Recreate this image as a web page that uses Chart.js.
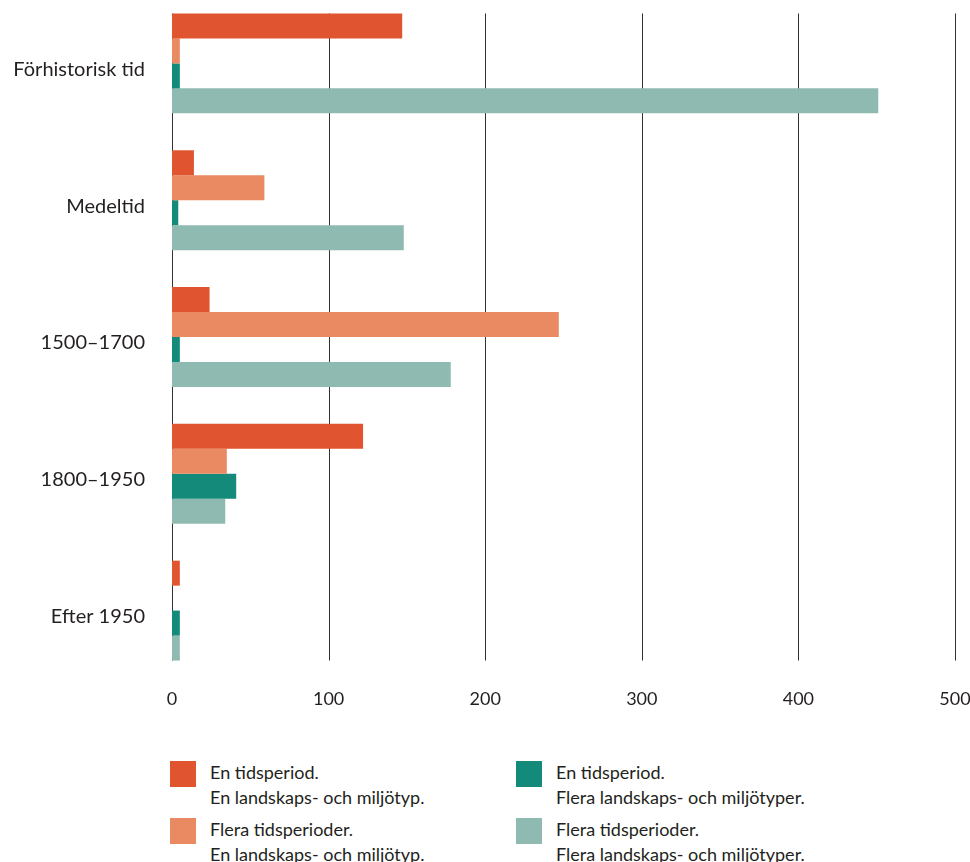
<!DOCTYPE html>
<html>
<head>
<meta charset="utf-8">
<script src="https://cdn.jsdelivr.net/npm/chart.js@4"></script>
<style>
    html, body { margin: 0; padding: 0; background: #fff; }
    body { width: 970px; height: 862px; position: relative; overflow: hidden; font-family: Lato, "Open Sans", sans-serif; color: #231f20; }
    #wrap { position: absolute; left: 0; top: -36px; width: 970px; height: 770px; }
    .legend-item { position: absolute; display: flex; align-items: flex-start; font-size: 18px; line-height: 25px; }
    .legend-item .box { width: 26px; height: 26px; margin-right: 14px; margin-top: 1px; flex: none; }
</style>
</head>
<body>
<div id="wrap"><canvas id="chart"></canvas></div>
<div id="legend"></div>
<script>
// categories and series values
const categories = ['Förhistorisk tid', 'Medeltid', '1500–1700', '1800–1950', 'Efter 1950'];
const enTidEnMiljo = [147, 14, 24, 122, 5];
const fleraTidEnMiljo = [5, 59, 247, 35, 0];
const enTidFleraMiljo = [5, 4, 5, 41, 5];
const fleraTidFleraMiljo = [451, 148, 178, 34, 5];
const xTicks = [0, 100, 200, 300, 400, 500];

const seriesLabels = [
    ['En tidsperiod.', 'En landskaps- och miljötyp.'],
    ['Flera tidsperioder.', 'En landskaps- och miljötyp.'],
    ['En tidsperiod.', 'Flera landskaps- och miljötyper.'],
    ['Flera tidsperioder.', 'Flera landskaps- och miljötyper.']
];
const colors = ['#e0552f', '#e98a62', '#138a7a', '#8fbab1'];
const groupPct = 0.73;

// vertical lines only across the bar groups
const gridPlugin = {
    id: 'gridLines',
    beforeDatasetsDraw(chart) {
        const x = chart.scales.x, y = chart.scales.y;
        const band = y.getPixelForValue(1) - y.getPixelForValue(0);
        const top = y.getPixelForValue(0) - band * groupPct / 2;
        const bottom = y.getPixelForValue(categories.length - 1) + band * groupPct / 2;
        const ctx = chart.ctx;
        ctx.save();
        ctx.strokeStyle = '#333';
        ctx.lineWidth = 1;
        xTicks.forEach(v => {
            const px = Math.round(x.getPixelForValue(v)) + 0.5;
            ctx.beginPath();
            ctx.moveTo(px, top);
            ctx.lineTo(px, bottom);
            ctx.stroke();
        });
        ctx.restore();
    }
};

new Chart(document.getElementById('chart'), {
    type: 'bar',
    data: {
        labels: categories,
        datasets: [enTidEnMiljo, fleraTidEnMiljo, enTidFleraMiljo, fleraTidFleraMiljo].map((d, i) => ({
            label: seriesLabels[i].join(' '),
            data: d,
            backgroundColor: colors[i],
            borderWidth: 0,
            barPercentage: 1,
            categoryPercentage: groupPct
        }))
    },
    options: {
        indexAxis: 'y',
        responsive: true,
        maintainAspectRatio: false,
        animation: false,
        layout: { padding: { top: 0, right: 15, bottom: 0, left: 0 } },
        plugins: { legend: { display: false }, tooltip: { enabled: false } },
        scales: {
            x: {
                min: 0,
                max: 500,
                afterBuildTicks: (s) => { s.ticks = xTicks.map(v => ({ value: v })); },
                grid: { display: false },
                border: { display: false },
                ticks: { color: '#231f20', font: { family: 'Lato', size: 18 }, padding: 1, maxRotation: 0 },
                afterFit: (s) => { s.height = 55; s.paddingLeft = 0; s.paddingRight = 0; }
            },
            y: {
                grid: { display: false },
                border: { display: false },
                ticks: { color: '#231f20', font: { family: 'Lato', size: 20 }, padding: 19, labelOffset: 6 },
                afterFit: (s) => { s.width = 172; }
            }
        }
    },
    plugins: [gridPlugin]
});

// legend in two columns
const legendPos = [[170, 760], [170, 817], [516, 760], [516, 817]];
const legend = document.getElementById('legend');
seriesLabels.forEach((lines, i) => {
    const item = document.createElement('div');
    item.className = 'legend-item';
    item.style.left = legendPos[i][0] + 'px';
    item.style.top = legendPos[i][1] + 'px';
    item.innerHTML = '<div class="box" style="background:' + colors[i] + '"></div><div>' + lines.join('<br>') + '</div>';
    legend.appendChild(item);
});
</script>
</body>
</html>
